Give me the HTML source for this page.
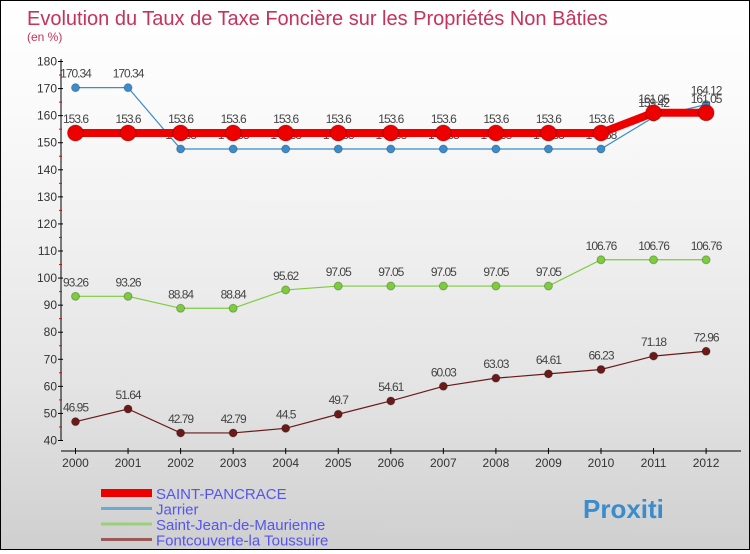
<!DOCTYPE html>
<html><head><meta charset="utf-8"><style>
body{margin:0}
#c{width:748px;height:548px;border:1px solid #000;background:linear-gradient(#fff,#fafafa 20%,#e4e4e4 70%,#cfcfcf);position:relative;font-family:"Liberation Sans",sans-serif}
</style></head><body>
<div id="c">
<svg id="s" width="748" height="548"></svg>
</div>
<script>
const years=[2000,2001,2002,2003,2004,2005,2006,2007,2008,2009,2010,2011,2012];
const yTicks=[40,50,60,70,80,90,100,110,120,130,140,150,160,170,180];
const stPancrace=[153.6,153.6,153.6,153.6,153.6,153.6,153.6,153.6,153.6,153.6,153.6,161.05,161.05];
const jarrier=[170.34,170.34,147.68,147.68,147.68,147.68,147.68,147.68,147.68,147.68,147.68,159.42,164.12];
const stJean=[93.26,93.26,88.84,88.84,95.62,97.05,97.05,97.05,97.05,97.05,106.76,106.76,106.76];
const fontc=[46.95,51.64,42.79,42.79,44.5,49.7,54.61,60.03,63.03,64.61,66.23,71.18,72.96];
const seriesNames=["SAINT-PANCRACE","Jarrier","Saint-Jean-de-Maurienne","Fontcouverte-la Toussuire"];
const NS="http://www.w3.org/2000/svg",s=document.getElementById('s');
const X=i=>74.5+i*52.55, Y=v=>439.5-(v-40)*379/140;
function el(t,a,txt){const e=document.createElementNS(NS,t);for(const k in a)e.setAttribute(k,a[k]);if(txt!==undefined)e.textContent=txt;s.appendChild(e);return e;}
function fmt(v){return String(v);}
let t=el('text',{x:26,y:24,fill:'#c8325a','font-size':20});t.textContent='Evolution du Taux de Taxe Foncière sur les Propriétés Non Bâties';

t=el('text',{x:26,y:40,fill:'#c8325a','font-size':12},'(en %)');

let a=el('line',{x1:60,y1:58,x2:60,y2:440,stroke:'#000'});
yTicks.forEach((v,i)=>{el('line',{x1:57,x2:62,y1:Y(v),y2:Y(v),stroke:'#000'});
 if(i<yTicks.length-1)el('line',{x1:58,x2:61,y1:Y(v+5),y2:Y(v+5),stroke:'#e00'});
 const l=el('text',{x:56,y:Y(v)+4,'text-anchor':'end','font-size':12,fill:'#333'},v);
 });
a=el('line',{x1:60,y1:450,x2:740,y2:450,stroke:'#000'});
years.forEach((y,i)=>{el('line',{x1:X(i),x2:X(i),y1:447,y2:453,stroke:'#000'});
 const l=el('text',{x:X(i),y:466,'text-anchor':'middle','font-size':12,fill:'#333'},y);
 });
function series(d,color,w,r,name,lo){
 const p=el('polyline',{points:d.map((v,i)=>X(i)+','+Y(v)).join(' '),fill:'none',stroke:color,'stroke-width':w});
 
 d.forEach((v,i)=>{const c=el('circle',{cx:X(i),cy:Y(v),r:r,fill:color,stroke:'rgba(0,0,0,0.25)'});
  
  const l=el('text',{x:X(i),y:Y(v)+(lo?4:-10),'text-anchor':'middle','font-size':12,fill:'#444','letter-spacing':'-1'},fmt(v));
  });
}
series(fontc,'#6b1a1a',1.2,4,'fontcouverte');
series(stJean,'#7ccc3c',1.2,4,'saint-jean');
series(jarrier,'#3a8ccc',1.2,4,'jarrier');
series(stPancrace,'#ee0000',8,8,'saint-pancrace');
// relabel jarrier lower values below the red line
const legC=['#ee0000','#6fa8d0','#9ad07a','#9a5a5a'],legW=[8,3,3,3];
seriesNames.forEach((n,i)=>{const y=492+i*15.5;
 const l=el('line',{x1:100,x2:151,y1:y,y2:y,stroke:legC[i],'stroke-width':legW[i]});
 
 const tx=el('text',{x:155,y:y+6,'font-size':15,fill:'#5555ee'},n);
 });
const lg=el('text',{x:582,y:517,'font-size':26,'font-weight':'bold',fill:'#3a8ccc'},'Proxiti');

</script>
</body></html>
